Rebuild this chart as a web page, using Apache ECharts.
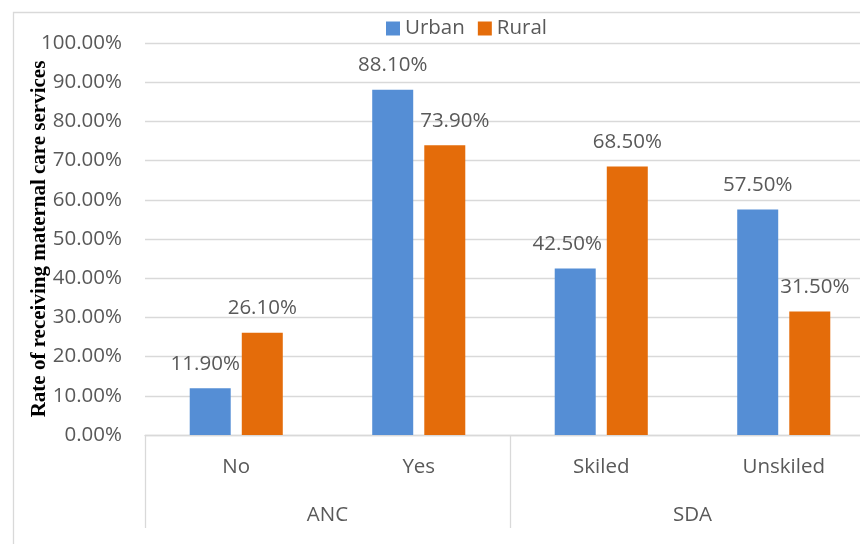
<!DOCTYPE html>
<html>
<head>
<meta charset="utf-8">
<script src="https://cdn.jsdelivr.net/npm/echarts@6/dist/echarts.min.js"></script>
<style>html,body{margin:0;padding:0;background:#fff;}#c{width:860px;height:544px;}</style>
</head>
<body>
<div id="c"></div>
<script>
const categories = ['No', 'Yes', 'Skiled', 'Unskiled'];
const groups = ['ANC', 'SDA'];
const urban = [11.9, 88.1, 42.5, 57.5];
const rural = [26.1, 73.9, 68.5, 31.5];
const seriesNames = ['Urban', 'Rural'];
const yTitle = 'Rate of receiving maternal care services';

// horizontal nudges of data labels (px), as placed in the original to avoid overlaps
const urbanLabelShift = [-5, 0, -8, 0];
const ruralLabelShift = [0, 10, 0, 5];

const chart = echarts.init(document.getElementById('c'), null, {renderer: 'canvas'});
const txt = '#595959';
const grid = '#d9d9d9';
const font = 'Open Sans';
const fs = 20.5;
const fmt = p => p.value.toFixed(2) + '%';
const withShift = (vals, shifts) => vals.map((v, i) => ({value: v, label: {offset: [shifts[i], 0]}}));
chart.setOption({
  animation: false,
  textStyle: {fontFamily: font},
  graphic: [{
    type: 'rect', left: 11, top: 10, shape: {width: 870, height: 560},
    style: {fill: 'none', stroke: grid, lineWidth: 1.3}, silent: true, z: -1
  }],
  legend: {
    data: seriesNames, top: 13, left: 381, itemWidth: 14, itemHeight: 14, itemGap: 13,
    icon: 'rect', textStyle: {color: txt, fontSize: fs, fontFamily: font}
  },
  grid: {left: 145, width: 730, top: 43, height: 392, containLabel: false, outerBoundsMode: 'none'},
  xAxis: [{
    type: 'category', data: categories, position: 'bottom',
    axisLine: {lineStyle: {color: grid, width: 1.3}},
    axisTick: {show: false},
    axisLabel: {color: txt, fontSize: fs, margin: 22, fontFamily: font}
  }, {
    type: 'category', data: groups, position: 'bottom',
    axisLine: {show: false},
    axisTick: {show: true, length: 93, interval: 0, lineStyle: {color: grid, width: 1.3}},
    axisLabel: {color: txt, fontSize: fs, margin: 70, fontFamily: font}
  }],
  yAxis: {
    type: 'value', min: 0, max: 100, interval: 10,
    name: yTitle, nameLocation: 'middle', nameGap: 95, nameRotate: 90, nameMoveOverlap: false,
    nameTextStyle: {fontFamily: 'Liberation Serif', fontWeight: 'bold', fontSize: 21, color: '#000'},
    axisLine: {show: false}, axisTick: {show: false},
    splitLine: {lineStyle: {color: grid, width: 1.3}},
    axisLabel: {color: txt, fontSize: fs, margin: 23, fontFamily: font, formatter: v => v.toFixed(2) + '%'}
  },
  series: [{
    name: seriesNames[0], type: 'bar', data: withShift(urban, urbanLabelShift), barWidth: 41, barGap: '27%',
    itemStyle: {color: '#558ED5'},
    label: {show: true, position: 'top', distance: 14, color: txt, fontSize: fs, fontFamily: font, formatter: fmt}
  }, {
    name: seriesNames[1], type: 'bar', data: withShift(rural, ruralLabelShift), barWidth: 41,
    itemStyle: {color: '#E46C0A'},
    label: {show: true, position: 'top', distance: 14, color: txt, fontSize: fs, fontFamily: font, formatter: fmt}
  }]
});
</script>
</body>
</html>
